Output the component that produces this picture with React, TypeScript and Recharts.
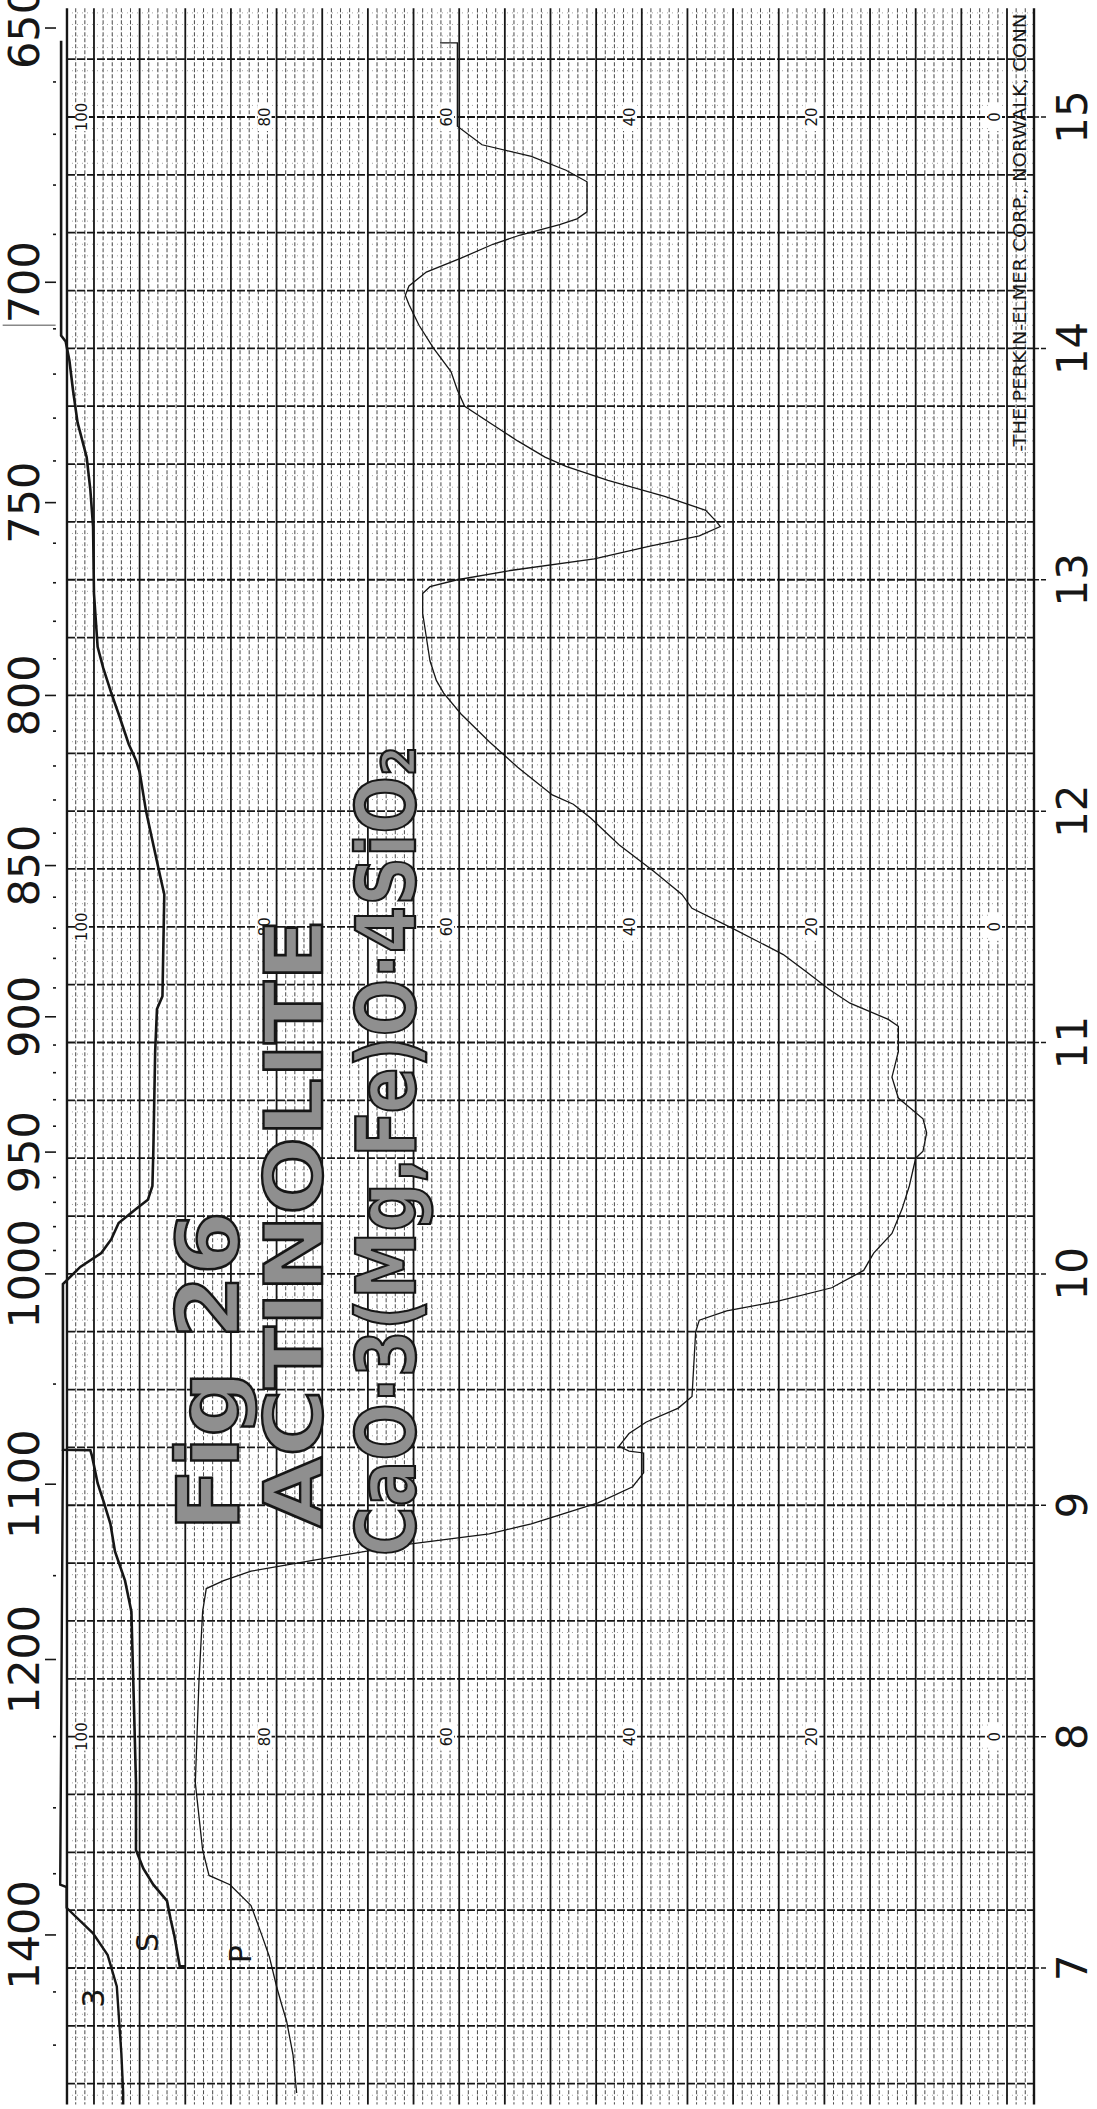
import React from "react";
import { ScatterChart, Scatter, XAxis, YAxis, ReferenceLine, ReferenceDot } from "recharts";

// Recorder traces as [wavelength µm, transmittance %]
const sampleTrace: [number, number][] = [
  [15.32, 62.1], [15.32, 60.2], [14.96, 60.2], [14.88, 57.5], [14.83, 52.1], [14.77, 48.3],
  [14.72, 46.0], [14.59, 46.0], [14.56, 47.1], [14.535, 49.0], [14.49, 53.3], [14.45, 56.3],
  [14.39, 59.8], [14.33, 63.6], [14.27, 65.5], [14.23, 65.9], [14.19, 65.5], [14.1, 64.4],
  [14.0, 62.8], [13.9, 60.9], [13.82, 60.2], [13.75, 59.4], [13.68, 56.7], [13.6, 53.6],
  [13.53, 50.6], [13.49, 48.3], [13.43, 43.7], [13.36, 37.5], [13.3, 33.0], [13.25, 31.8],
  [13.23, 31.4], [13.19, 33.7], [13.145, 39.1], [13.09, 45.2], [13.04, 54.4], [13.0, 60.2],
  [12.97, 63.2], [12.94, 64.0], [12.855, 64.0], [12.65, 63.2], [12.565, 62.5], [12.51, 61.7],
  [12.42, 59.8], [12.3, 56.7], [12.19, 53.6], [12.07, 49.8], [12.03, 47.5], [11.97, 45.6],
  [11.855, 42.5], [11.74, 38.7], [11.64, 35.6], [11.58, 34.5], [11.49, 29.9], [11.38, 24.5],
  [11.3, 21.8], [11.23, 19.5], [11.17, 17.2], [11.1, 13.0], [11.07, 11.9], [11.03, 11.9],
  [10.96, 11.9], [10.85, 12.6], [10.76, 11.9], [10.67, 9.2], [10.61, 8.8], [10.53, 9.2],
  [10.5, 10.0], [10.38, 10.7], [10.28, 11.5], [10.175, 12.6], [10.09, 14.6], [10.015, 15.7],
  [9.94, 19.2], [9.88, 25.3], [9.84, 30.7], [9.8, 33.7], [9.75, 34.1], [9.47, 34.5],
  [9.42, 36.0], [9.36, 39.5], [9.31, 41.4], [9.255, 42.5], [9.234, 41.4], [9.226, 39.8],
  [9.14, 39.8], [9.08, 41.0], [9.01, 44.8], [8.92, 52.1], [8.876, 56.7], [8.83, 65.9],
  [8.774, 74.3], [8.715, 82.8], [8.674, 85.8], [8.64, 87.7], [8.54, 88.1], [8.24, 88.5],
  [7.8, 88.9], [7.51, 88.1], [7.4, 87.4], [7.36, 85.1], [7.27, 82.8], [7.14, 81.6],
  [7.05, 80.8], [6.92, 80.0], [6.85, 79.5], [6.77, 78.9], [6.625, 78.2], [6.46, 77.8],
];

const solventTrace: [number, number][] = [
  [15.33, 103.6], [14.055, 103.6], [14.03, 103.1], [13.95, 102.7], [13.82, 102.3], [13.68, 101.8],
  [13.53, 100.8], [13.39, 100.4], [13.23, 100.1], [12.94, 100.0], [12.71, 99.6], [12.62, 99.0],
  [12.51, 98.1], [12.42, 97.3], [12.29, 96.2], [12.22, 95.4], [12.17, 95.0], [12.0, 94.3],
  [11.855, 93.5], [11.71, 92.7], [11.64, 92.3], [11.2, 92.5], [11.145, 93.1], [10.96, 93.3],
  [10.53, 93.5], [10.38, 93.6], [10.32, 94.1], [10.28, 95.4], [10.22, 97.3], [10.15, 98.1],
  [10.09, 99.2], [10.03, 101.5], [9.956, 103.4], [9.24, 103.4], [9.238, 100.4], [9.21, 100.2],
  [9.095, 99.6], [9.01, 98.9], [8.92, 98.2], [8.8, 97.7], [8.674, 96.6], [8.54, 95.9],
  [8.39, 95.8], [8.1, 95.6], [7.8, 95.4], [7.51, 95.4], [7.43, 94.6], [7.36, 93.5],
  [7.29, 92.0], [7.21, 91.6], [7.14, 91.2], [7.007, 90.6], [7.007, 90.0],
];

const thirdTrace: [number, number][] = [
  [9.24, 103.4], [7.36, 103.7], [7.35, 103.0], [7.26, 103.0], [7.15, 100.1], [7.056, 98.5],
  [6.92, 97.5], [6.63, 97.0], [6.46, 96.8], [6.41, 96.8],
];

const wavenumberLabels = [650, 700, 750, 800, 850, 900, 950, 1000, 1100, 1200, 1400];
const wavenumberMinor = [
  660, 670, 680, 690, 710, 720, 730, 740, 760, 770, 780, 790, 810, 820, 830, 840, 860, 870,
  880, 890, 910, 920, 930, 940, 960, 970, 980, 990, 1050, 1150, 1250, 1300, 1350, 1450, 1500,
];
const micronTicks = [7, 8, 9, 10, 11, 12, 13, 14, 15];
const percentLabels = [100, 80, 60, 40, 20, 0];
const percentLabelRows = [15, 11.5, 8];

const traceLabels = [
  { text: "S", um: 7.11, t: 94.1 },
  { text: "P", um: 7.06, t: 84.0 },
  { text: "3", um: 6.87, t: 100.0 },
];

const notes = [
  { text: "Fig 26", um: 9.58, t: 87.5, size: 86, length: 320 },
  { text: "ACTINOLITE", um: 10.22, t: 78.0, size: 80, length: 610 },
  { text: "CaO·3(Mg,Fe)O·4SiO₂", um: 10.53, t: 68.0, size: 82, length: 810 },
];

const T_DOMAIN: [number, number] = [-2.957, 104.05];
const UM_DOMAIN: [number, number] = [6.3906, 15.5057];
const GRID_TOP = 15.47;
const GRID_BOTTOM = 6.41;
const BORDER_LEFT = 102.957;
const BORDER_RIGHT = -2.957;

const INK = "#161616";
const PRINT_FONT = "'DejaVu Sans', 'Liberation Sans', sans-serif";

const majorT: number[] = [];
for (let t = 0; t <= 100; t += 5) majorT.push(t);
const minorT: number[] = [];
for (let t = -2; t <= 102; t++) if (t % 5 !== 0) minorT.push(t);
const majorUm: number[] = [];
for (let k = 26; k <= 61; k++) majorUm.push(k * 0.25);
const minorUm: number[] = [];
for (let k = 129; k <= 309; k++) if (k % 5 !== 0) minorUm.push(k * 0.05);

const toPoints = (trace: [number, number][]) => trace.map(([um, t]) => ({ um, t }));
const noDot = () => <g />;

function WavenumberTick({ x, y, payload }: any) {
  const nu = Math.round(10000 / payload.value);
  const labelled = wavenumberLabels.includes(nu);
  return (
    <g>
      <line x1={x - (labelled ? 12 : 4)} x2={x - 1} y1={y} y2={y} stroke={INK} strokeWidth={1.6} />
      {labelled && (
        <text
          transform={`translate(${x - 33},${y}) rotate(-90)`}
          textAnchor="middle"
          dominantBaseline="central"
          fontSize={43}
          fontFamily={PRINT_FONT}
          fill={INK}
        >
          {nu}
        </text>
      )}
    </g>
  );
}

function MicronTick({ x, y, payload }: any) {
  return (
    <g>
      <line x1={x} x2={x + 14} y1={y} y2={y} stroke={INK} strokeWidth={1.5} strokeDasharray="5 2" />
      <text
        transform={`translate(${x + 38},${y}) rotate(-90)`}
        textAnchor="middle"
        dominantBaseline="central"
        fontSize={42}
        fontFamily={PRINT_FONT}
        fill={INK}
      >
        {payload.value}
      </text>
    </g>
  );
}

export default function App() {
  return (
    <div style={{ width: 1097, height: 2109, background: "#fff" }}>
      <style>{"body{margin:0;background:#fff}"}</style>
      <ScatterChart width={1097} height={2109} margin={{ top: 0, right: 0, bottom: 0, left: 0 }}>
        <XAxis type="number" dataKey="t" domain={T_DOMAIN} reversed hide allowDataOverflow />
        <YAxis
          type="number"
          dataKey="um"
          domain={UM_DOMAIN}
          allowDataOverflow
          width={57}
          ticks={[...wavenumberLabels, ...wavenumberMinor].map(n => 10000 / n)}
          interval={0}
          tickSize={0}
          tickMargin={0}
          axisLine={false}
          tickLine={false}
          tick={<WavenumberTick />}
        />
        <YAxis
          yAxisId="right"
          orientation="right"
          type="number"
          domain={UM_DOMAIN}
          allowDataOverflow
          width={63}
          ticks={micronTicks}
          interval={0}
          tickSize={0}
          tickMargin={0}
          axisLine={false}
          tickLine={false}
          tick={<MicronTick />}
        />

        {/* chart paper */}
        {minorUm.map(um => (
          <ReferenceLine
            key={`mu${um}`}
            segment={[{ x: BORDER_LEFT, y: um }, { x: BORDER_RIGHT, y: um }]}
            stroke="#8a8a8a"
            strokeWidth={0.8}
            strokeDasharray="1 4"
          />
        ))}
        {minorT.map(t => (
          <ReferenceLine
            key={`mt${t}`}
            segment={[{ x: t, y: GRID_TOP }, { x: t, y: GRID_BOTTOM }]}
            stroke="#4a4a4a"
            strokeWidth={1}
            strokeDasharray="4 2"
          />
        ))}
        {majorUm.map(um => (
          <ReferenceLine
            key={`Mu${um}`}
            segment={[{ x: BORDER_LEFT, y: um }, { x: BORDER_RIGHT, y: um }]}
            stroke={INK}
            strokeWidth={1.8}
            strokeDasharray="8 2"
          />
        ))}
        {[...majorT, BORDER_LEFT, BORDER_RIGHT].map(t => (
          <ReferenceLine
            key={`Mt${t}`}
            segment={[{ x: t, y: GRID_TOP }, { x: t, y: GRID_BOTTOM }]}
            stroke={INK}
            strokeWidth={t === BORDER_LEFT || t === BORDER_RIGHT ? 2.4 : 1.8}
          />
        ))}
        <ReferenceLine
          segment={[{ x: 110, y: 14.1 }, { x: 104.2, y: 14.1 }]}
          ifOverflow="visible"
          stroke="#888"
          strokeWidth={1.5}
        />

        {/* recorder traces */}
        <Scatter
          data={toPoints(solventTrace)}
          line={{ stroke: INK, strokeWidth: 2.6, fill: "none" }}
          lineJointType="linear"
          shape={noDot}
          isAnimationActive={false}
        />
        <Scatter
          data={toPoints(thirdTrace)}
          line={{ stroke: INK, strokeWidth: 2.4, fill: "none" }}
          lineJointType="linear"
          shape={noDot}
          isAnimationActive={false}
        />
        <Scatter
          data={toPoints(sampleTrace)}
          line={{ stroke: INK, strokeWidth: 1.3, fill: "none" }}
          lineJointType="linear"
          shape={noDot}
          isAnimationActive={false}
        />

        {/* percent scale printed on the paper */}
        {percentLabelRows.flatMap(um =>
          percentLabels.map(p => (
            <ReferenceDot
              key={`pl${um}-${p}`}
              x={p}
              y={um}
              r={1}
              shape={({ cx, cy }: any) => (
                <g transform={`translate(${cx - 12},${cy}) rotate(-90)`}>
                  <rect x={-14} y={-7} width={28} height={14} fill="#fff" />
                  <text textAnchor="middle" dominantBaseline="central" fontSize={15} fontFamily={PRINT_FONT} fill={INK}>
                    {p}
                  </text>
                </g>
              )}
            />
          ))
        )}

        <ReferenceDot
          x={-1.45}
          y={14.5}
          r={1}
          shape={({ cx, cy }: any) => (
            <text
              transform={`translate(${cx},${cy}) rotate(-90)`}
              textAnchor="middle"
              dominantBaseline="central"
              fontSize={17}
              fontFamily={PRINT_FONT}
              fill={INK}
              textLength={438}
              lengthAdjust="spacingAndGlyphs"
            >
              -THE PERKIN-ELMER CORP., NORWALK, CONN
            </text>
          )}
        />

        {/* handwriting */}
        {traceLabels.map(l => (
          <ReferenceDot
            key={l.text}
            x={l.t}
            y={l.um}
            r={1}
            shape={({ cx, cy }: any) => (
              <text
                transform={`translate(${cx},${cy}) rotate(-90)`}
                textAnchor="middle"
                dominantBaseline="central"
                fontSize={30}
                fontFamily={PRINT_FONT}
                fill={INK}
              >
                {l.text}
              </text>
            )}
          />
        ))}
        {notes.map(n => (
          <ReferenceDot
            key={n.text}
            x={n.t}
            y={n.um}
            r={1}
            shape={({ cx, cy }: any) => (
              <text
                transform={`translate(${cx},${cy}) rotate(-90)`}
                textAnchor="middle"
                dominantBaseline="central"
                fontSize={n.size}
                fontFamily={PRINT_FONT}
                fontWeight={700}
                fill="#8f8f8f"
                stroke={INK}
                strokeWidth={2.4}
                textLength={n.length}
                lengthAdjust="spacingAndGlyphs"
              >
                {n.text}
              </text>
            )}
          />
        ))}
      </ScatterChart>
    </div>
  );
}
